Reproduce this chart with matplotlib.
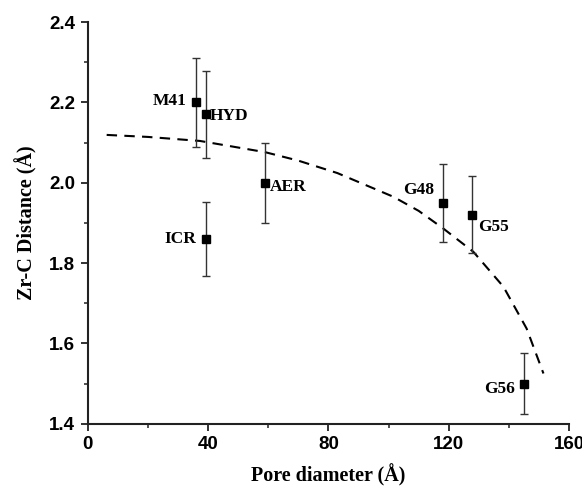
import matplotlib
matplotlib.use("Agg")
import matplotlib.pyplot as plt
from matplotlib.ticker import MultipleLocator, FormatStrFormatter

# Measured samples
labels = ["M41", "HYD", "AER", "ICR", "G48", "G55", "G56"]
pore_diameter = [36.0, 39.2, 59.0, 39.2, 118.0, 127.9, 145.2]
zr_c_distance = [2.20, 2.17, 2.00, 1.86, 1.95, 1.92, 1.50]
distance_err = [0.11, 0.108, 0.10, 0.093, 0.097, 0.096, 0.075]

# Trend curve
trend_x = [6.3, 20.0, 37.3, 59.0, 70.0, 83.0, 101.6, 110.0, 118.2, 128.2, 138.2, 145.9, 151.5]
trend_y = [2.119, 2.114, 2.104, 2.076, 2.055, 2.024, 1.965, 1.930, 1.886, 1.828, 1.741, 1.637, 1.525]

# Label placement (offset in points, horizontal alignment)
label_pos = {
    "M41": ((-7, 1), "right"),
    "HYD": ((3, -1), "left"),
    "AER": ((3, -3), "left"),
    "ICR": ((-7, 0), "right"),
    "G48": ((-6, 9), "right"),
    "G55": ((4, -9), "left"),
    "G56": ((-7, -4), "right"),
}

fig = plt.figure(figsize=(5.82, 4.9), dpi=100)
ax = fig.add_axes([0.1507, 0.1353, 0.827, 0.8197])

ax.plot(trend_x, trend_y, linestyle=(0, (5, 3.5)), color="black", linewidth=1.5)

ax.errorbar(pore_diameter, zr_c_distance, yerr=distance_err, fmt="s",
            color="black", markersize=5.5, ecolor="#333333", elinewidth=1.0,
            capsize=3, capthick=1.0)

for name, x, y in zip(labels, pore_diameter, zr_c_distance):
    (dx, dy), ha = label_pos[name]
    ax.annotate(name, (x, y), xytext=(dx, dy), textcoords="offset points",
                ha=ha, va="center", fontsize=12.5, fontweight="bold",
                family="Liberation Serif")

ax.set_xlim(0, 160)
ax.set_ylim(1.4, 2.4)
ax.xaxis.set_major_locator(MultipleLocator(40))
ax.xaxis.set_minor_locator(MultipleLocator(20))
ax.yaxis.set_major_locator(MultipleLocator(0.2))
ax.yaxis.set_minor_locator(MultipleLocator(0.1))
ax.yaxis.set_major_formatter(FormatStrFormatter("%.1f"))

for side in ("top", "right"):
    ax.spines[side].set_visible(False)
for side in ("left", "bottom"):
    ax.spines[side].set_linewidth(1.5)
    ax.spines[side].set_color("#222222")

ax.tick_params(which="major", direction="out", length=5, width=1.3, color="#222222", pad=4)
ax.tick_params(which="minor", direction="out", length=3, width=1.1, color="#222222")
for lab in ax.get_xticklabels() + ax.get_yticklabels():
    lab.set_fontfamily("Liberation Sans")
    lab.set_fontweight("bold")
    lab.set_fontsize(13.5)

ax.set_xlabel("Pore diameter (Å)", fontsize=14.5, fontweight="bold",
              family="Liberation Serif", labelpad=8)
ax.set_ylabel("Zr-C Distance (Å)", fontsize=14.5, fontweight="bold",
              family="Liberation Serif", labelpad=8)

fig.savefig("out.png", dpi=100)
